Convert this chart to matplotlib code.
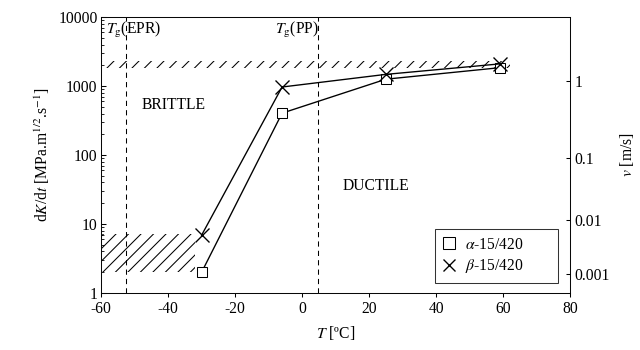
import matplotlib
matplotlib.use("Agg")
import matplotlib.pyplot as plt
from matplotlib.lines import Line2D

plt.rcParams['font.family'] = ['Liberation Serif', 'DejaVu Serif']
plt.rcParams['mathtext.fontset'] = 'stix'
plt.rcParams['hatch.linewidth'] = 1.0

# Data
temps = [-30, -6, 25, 59]
alpha_vals = [2.0, 405, 1260, 1850]
beta_vals = [6.9, 970, 1480, 2100]
series_labels = [r'$\alpha$-15/420', r'$\beta$-15/420']
tg_epr = -52.5
tg_pp = 4.8
xticks = [-60, -40, -20, 0, 20, 40, 60, 80]
yticks = [1, 10, 100, 1000, 10000]
yticklabels = ['1', '10', '100', '1000', '10000']
v_tick_pos = [1200, 92, 11.5, 1.88]
v_tick_labels = ['1', '0.1', '0.01', '0.001']
brittle_band_x = [-60, -32]
brittle_band_y = [2.0, 7.2]
top_band_x = [-60, 62]
top_band_y = [1850, 2300]

DPI = 75
fig = plt.figure(figsize=(640 / DPI, 350 / DPI), dpi=DPI)
ax = fig.add_axes([0.158, 0.163, 0.733, 0.788])
fs = 15

ax.set_xlim(-60, 80)
ax.set_yscale('log')
ax.set_ylim(1, 10000)

# hatched regions
ax.fill_between(brittle_band_x, brittle_band_y[0], brittle_band_y[1],
                facecolor='none', edgecolor='black', hatch='//', linewidth=0, zorder=1)
ax.fill_between(top_band_x, top_band_y[0], top_band_y[1],
                facecolor='none', edgecolor='black', hatch='//', linewidth=0, zorder=1)

# dashed Tg lines
for xv in (tg_epr, tg_pp):
    ax.axvline(xv, color='black', linestyle=(0, (5, 4)), linewidth=1.0, zorder=1)

ax.plot(temps, alpha_vals, color='black', linewidth=1.3, marker='s', markersize=10.5,
        markerfacecolor='white', markeredgecolor='black', markeredgewidth=1.0, zorder=3)
ax.plot(temps, beta_vals, color='black', linewidth=1.3, marker='x', markersize=13,
        markeredgewidth=1.3, zorder=4)

ax.text(-58.6, 6600, r'$T_\mathrm{g}$(EPR)', fontsize=fs, ha='left', va='center')
ax.text(-8.1, 6600, r'$T_\mathrm{g}$(PP)', fontsize=fs, ha='left', va='center')
ax.text(-48, 530, 'BRITTLE', fontsize=fs, ha='left', va='center')
ax.text(12.2, 35.6, 'DUCTILE', fontsize=fs, ha='left', va='center')

ax.set_xticks(xticks)
ax.set_xticklabels([str(t) for t in xticks], fontsize=fs)
ax.set_yticks(yticks)
ax.set_yticklabels(yticklabels, fontsize=fs)
ax.tick_params(axis='x', direction='out', length=4, width=1, top=False, pad=4)
ax.tick_params(axis='y', which='major', direction='in', length=5, width=1, right=False)
ax.tick_params(axis='y', which='minor', direction='in', length=3, width=0.8, right=False)

ax.set_xlabel(r'$T$ [ºC]', fontsize=fs, labelpad=6)
ax.set_ylabel(r'd$K$/d$t$ [MPa.m$^{1/2}$.s$^{-1}$]', fontsize=fs, labelpad=6)

for s in ax.spines.values():
    s.set_linewidth(1.0)
    s.set_color('#333333')

ax2 = ax.twinx()
ax2.set_yscale('log')
ax2.set_ylim(1, 10000)
ax2.set_yticks(v_tick_pos)
ax2.set_yticklabels(v_tick_labels, fontsize=fs)
ax2.minorticks_off()
ax2.tick_params(axis='y', direction='in', length=4, width=1, pad=4)
ax2.set_ylabel(r'$v$ [m/s]', fontsize=fs, labelpad=8)

handles = [
    Line2D([], [], linestyle='none', marker='s', markersize=11, markerfacecolor='white',
           markeredgecolor='black', markeredgewidth=1.0),
    Line2D([], [], linestyle='none', marker='x', markersize=11, color='black',
           markeredgewidth=1.3),
]
leg = ax.legend(handles, series_labels, loc='lower left', bbox_to_anchor=(0.712, 0.036, 0.262, 0.21),
                mode='expand', fontsize=fs, frameon=True, fancybox=False, borderpad=0.5,
                handlelength=0.8, handletextpad=0.6, labelspacing=0.3, borderaxespad=0)
leg.get_frame().set_edgecolor('black')
leg.get_frame().set_linewidth(1.0)
leg.set_zorder(5)

fig.savefig('out.png', dpi=DPI)
